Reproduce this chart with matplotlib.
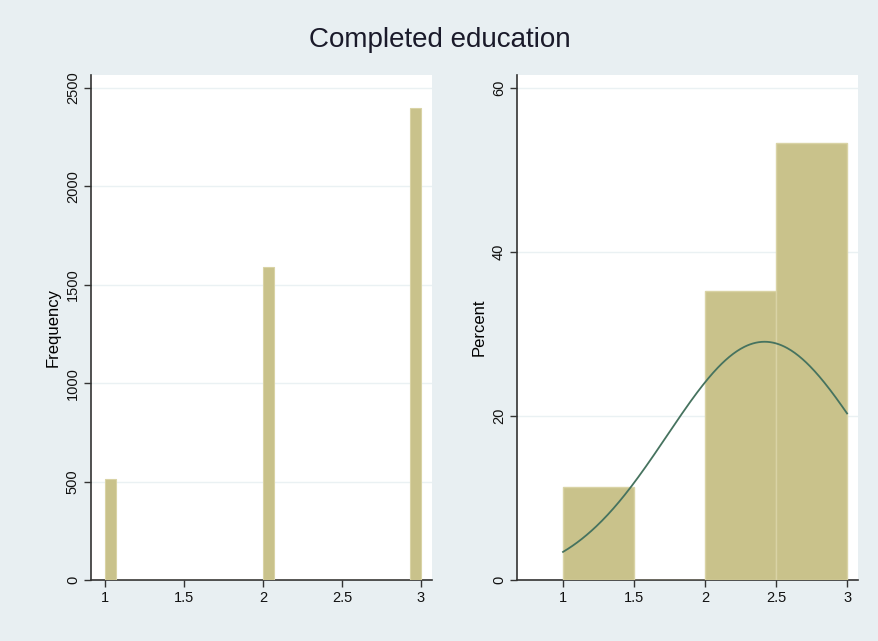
import numpy as np
import matplotlib
matplotlib.use("Agg")
import matplotlib.pyplot as plt

# Data
levels = [1, 2, 3]
counts = [512, 1588, 2398]
title = "Completed education"
left_yticks = [0, 500, 1000, 1500, 2000, 2500]
right_yticks = [0, 20, 40, 60]
xticks = [1, 1.5, 2, 2.5, 3]
xtick_labels = ["1", "1.5", "2", "2.5", "3"]

bg = "#E8EFF2"
bar_color = "#C9C28B"
edge_color = "#D9D3A5"
curve_color = "#46735F"
grid_color = "#EAF1F3"
axis_color = "#333333"

plt.rcParams['font.family'] = ['Liberation Sans', 'DejaVu Sans']

fig = plt.figure(figsize=(8.79, 6.41), dpi=100, facecolor=bg)

ax1 = fig.add_axes([91/879, 61/641, 341/879, 505/641])
ax2 = fig.add_axes([517/879, 61/641, 341/879, 505/641])

counts_arr = np.array(counts, dtype=float)
pct = counts_arr / counts_arr.sum() * 100

# Left: frequency histogram with 30 bins
ax1.hist(levels, bins=30, range=(1, 3), weights=counts, color=bar_color,
         edgecolor=edge_color, linewidth=0.8, zorder=3)
ax1.set_xlim(0.911, 3.07)
ax1.set_ylim(0, 2566)
ax1.set_yticks(left_yticks)
ax1.set_ylabel("Frequency", fontsize=12, labelpad=4)

# Right: percent histogram with 4 bins + normal curve
ax2.hist(levels, bins=4, range=(1, 3), weights=pct, color=bar_color,
         edgecolor=edge_color, linewidth=1.0, zorder=3)
lv = np.array(levels, dtype=float)
w = pct / 100
mu = np.sum(lv * w)
sd = np.sqrt(np.sum(w * (lv - mu) ** 2))
xs = np.linspace(1, 3, 300)
dens = np.exp(-0.5 * ((xs - mu) / sd) ** 2) / (sd * np.sqrt(2 * np.pi))
binw = 0.5
ax2.plot(xs, dens * binw * 100, color=curve_color, linewidth=1.3, zorder=4)
ax2.set_xlim(0.676, 3.077)
ax2.set_ylim(0, 61.6)
ax2.set_yticks(right_yticks)
ax2.set_ylabel("Percent", fontsize=12, labelpad=4)

for ax in (ax1, ax2):
    ax.set_facecolor("white")
    ax.set_xticks(xticks)
    ax.set_xticklabels(xtick_labels)
    for s in ("top", "right"):
        ax.spines[s].set_visible(False)
    for s in ("left", "bottom"):
        ax.spines[s].set_color(axis_color)
        ax.spines[s].set_linewidth(1.2)
    ax.tick_params(axis="both", direction="out", length=5, width=1.0,
                   color=axis_color, labelsize=10.5, labelcolor="#111111", pad=3)
    for lab in ax.get_yticklabels():
        lab.set_rotation(90)
        lab.set_va("center")
    ax.yaxis.grid(True, color=grid_color, linewidth=1.0, zorder=0)
    ax.set_axisbelow(True)

fig.text(0.5, 1 - 40/641, title, ha="center", va="center", fontsize=20,
         color="#1a1a2a")

fig.savefig("out.png", dpi=100, facecolor=bg)
